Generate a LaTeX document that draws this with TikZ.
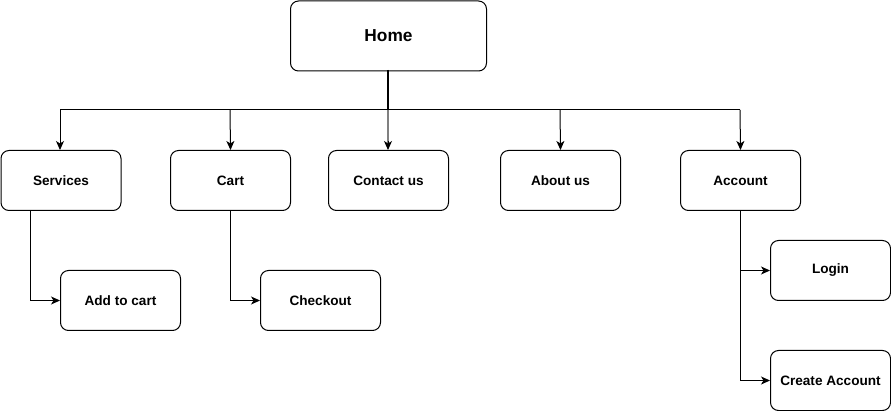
\documentclass[tikz,border=0pt]{standalone}
\usepackage{fontspec}
\setmainfont{Liberation Sans}
\usetikzlibrary{arrows.meta}
\begin{document}
\begin{tikzpicture}[x=1pt,y=-1pt,
  box/.style={draw=black,line width=1pt,rounded corners=8pt,minimum width=120pt,minimum height=60pt,inner sep=0pt,font=\fontsize{13.6}{15}\selectfont\bfseries,anchor=north west},
  conn/.style={line width=1pt,-{Stealth[length=9pt,width=8pt,inset=2.5pt]}},
  bus/.style={line width=1pt}]
\useasboundingbox (0,0) rectangle (891,411);
\node[box,minimum width=196pt,minimum height=70pt,font=\fontsize{17.3}{19}\selectfont\bfseries] (home) at (290,0.5) {Home};
\node[box] (services) at (0.5,150) {Services};
\node[box] (cart) at (170,150) {Cart};
\node[box] (contact) at (328,150) {Contact us};
\node[box] (about) at (500,150) {About us};
\node[box] (account) at (680,150) {Account};
\node[box] (addcart) at (60,270) {Add to cart};
\node[box] (checkout) at (260,270) {Checkout};
\node[box] (login) at (770,240) {Login};
\node[box] (create) at (770,350) {Create Account};
\coordinate (bl) at (60,110);
\coordinate (br) at (740,110);
\coordinate (hb) at (388,110);
\draw[line width=2pt] (388,70) -- (hb);
\draw[bus] (bl) -- (br);
\draw[conn] (bl) -- (services.north -| bl);
\draw[conn] (230,110) -- (cart.north);
\draw[line width=1.2pt,draw=black!50] (hb) -- ([yshift=7pt]contact.north -| hb);
\draw[conn] ([yshift=9pt]contact.north -| hb) -- (contact.north -| hb);
\draw[conn] (560,110) -- (about.north);
\draw[conn] (br) -- (account.north);
\draw[conn] (services.south -| 30,0) |- (addcart.west);
\draw[conn] (cart.south) |- (checkout.west);
\draw[conn] (account.south) |- (login.west);
\draw[conn] (account.south) |- (create.west);
\end{tikzpicture}
\end{document}
